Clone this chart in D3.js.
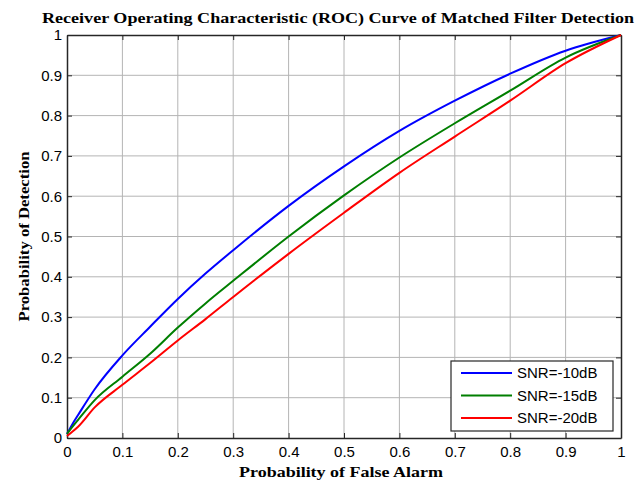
<!DOCTYPE html>
<html>
<head>
<meta charset="utf-8">
<script src="https://cdn.jsdelivr.net/npm/d3@7"></script>
<style>
  body { margin: 0; background: #fff; }
  svg { display: block; }
</style>
</head>
<body>
<svg id="chart"></svg>
<script>
// ROC curves
const pfa = [0, 0.01, 0.02, 0.05, 0.1, 0.15, 0.2, 0.25, 0.3, 0.4, 0.5, 0.6, 0.7, 0.8, 0.9, 1];
const pdSnr10 = [0.01, 0.035, 0.057, 0.121, 0.205, 0.276, 0.345, 0.408, 0.466, 0.576, 0.674, 0.762, 0.837, 0.904, 0.961, 1];
const pdSnr15 = [0.01, 0.028, 0.045, 0.094, 0.152, 0.209, 0.274, 0.334, 0.39, 0.5, 0.602, 0.696, 0.781, 0.862, 0.944, 1];
const pdSnr20 = [0.005, 0.016, 0.028, 0.076, 0.132, 0.186, 0.242, 0.295, 0.35, 0.457, 0.559, 0.658, 0.748, 0.837, 0.93, 1];
const seriesNames = ["SNR=-10dB", "SNR=-15dB", "SNR=-20dB"];
const seriesColors = ["#0000ff", "#007f00", "#ff0000"];
const tickValues = d3.range(0, 11).map(i => i / 10);

const width = 640, height = 486;
const margin = { left: 67, right: 19, top: 35, bottom: 48 };

const svg = d3.select("#chart")
	.attr("width", width)
	.attr("height", height)
	.attr("viewBox", `0 0 ${width} ${height}`);

const x = d3.scaleLinear().domain([0, 1]).range([margin.left, width - margin.right]);
const y = d3.scaleLinear().domain([0, 1]).range([height - margin.bottom, margin.top]);

const tickFmt = d => d === 0 || d === 1 ? String(d) : d3.format(".1f")(d);

// grid
const grid = svg.append("g");
grid.selectAll("line.vx")
	.data(tickValues.slice(1, -1))
	.join("line")
	.attr("x1", d => x(d)).attr("x2", d => x(d))
	.attr("y1", y(0)).attr("y2", y(1))
	.attr("stroke", "#b4b4b4")
	.attr("stroke-width", 1);
grid.selectAll("line.hy")
	.data(tickValues.slice(1, -1))
	.join("line")
	.attr("y1", d => y(d)).attr("y2", d => y(d))
	.attr("x1", x(0)).attr("x2", x(1))
	.attr("stroke", "#b4b4b4")
	.attr("stroke-width", 1);

// axes with inward ticks (box on)
const axisColor = "#262626";
const axisFont = "'Liberation Sans', Arial, sans-serif";

const xAxis = svg.append("g")
	.attr("transform", `translate(0,${y(0)})`)
	.call(d3.axisBottom(x).tickValues(tickValues).tickFormat(tickFmt).tickSizeInner(-5).tickSizeOuter(0).tickPadding(10));
const xAxisTop = svg.append("g")
	.attr("transform", `translate(0,${y(1)})`)
	.call(d3.axisTop(x).tickValues(tickValues).tickFormat("").tickSizeInner(-5).tickSizeOuter(0));
const yAxis = svg.append("g")
	.attr("transform", `translate(${x(0)},0)`)
	.call(d3.axisLeft(y).tickValues(tickValues).tickFormat(tickFmt).tickSizeInner(-5).tickSizeOuter(0).tickPadding(5));
const yAxisRight = svg.append("g")
	.attr("transform", `translate(${x(1)},0)`)
	.call(d3.axisRight(y).tickValues(tickValues).tickFormat("").tickSizeInner(-5).tickSizeOuter(0));

[xAxis, xAxisTop, yAxis, yAxisRight].forEach(g => {
	g.select(".domain").attr("stroke", axisColor).attr("stroke-width", 1.5);
	g.selectAll(".tick line").attr("stroke", axisColor);
	g.selectAll(".tick text")
		.attr("fill", "#000")
		.style("font-family", axisFont)
		.style("font-size", "15px");
});
xAxis.selectAll(".tick text").attr("dy", "0.6em");

// curves
const seriesData = [pdSnr10, pdSnr15, pdSnr20];
const line = d3.line()
	.x((d, i) => x(pfa[i]))
	.y(d => y(d))
	.curve(d3.curveMonotoneX);

svg.append("g")
	.selectAll("path")
	.data(seriesData)
	.join("path")
	.attr("d", line)
	.attr("fill", "none")
	.attr("stroke", (d, i) => seriesColors[i])
	.attr("stroke-width", 2)
	.attr("stroke-linejoin", "round");

// legend
const legend = svg.append("g").attr("transform", "translate(451,361)");
legend.append("rect")
	.attr("width", 162).attr("height", 70)
	.attr("fill", "#fff")
	.attr("stroke", axisColor)
	.attr("stroke-width", 1.2);
const items = legend.selectAll("g.item")
	.data(seriesNames)
	.join("g")
	.attr("transform", (d, i) => `translate(0,${12 + i * 22.5})`);
items.append("line")
	.attr("x1", 10).attr("x2", 61)
	.attr("stroke", (d, i) => seriesColors[i])
	.attr("stroke-width", 2);
items.append("text")
	.attr("x", 66)
	.attr("dy", "0.35em")
	.style("font-family", axisFont)
	.style("font-size", "15px")
	.text(d => d);

// titles
const serif = "'Liberation Serif', 'Times New Roman', serif";
svg.append("text")
	.attr("x", 338).attr("y", 22.5)
	.attr("text-anchor", "middle")
	.attr("textLength", 592)
	.attr("lengthAdjust", "spacingAndGlyphs")
	.style("font-family", serif)
	.style("font-weight", "bold")
	.style("font-size", "15px")
	.text("Receiver Operating Characteristic (ROC) Curve of Matched Filter Detection");

svg.append("text")
	.attr("x", 341).attr("y", 477)
	.attr("text-anchor", "middle")
	.attr("textLength", 204)
	.attr("lengthAdjust", "spacingAndGlyphs")
	.style("font-family", serif)
	.style("font-weight", "bold")
	.style("font-size", "15px")
	.text("Probability of False Alarm");

svg.append("text")
	.attr("transform", `translate(29,${y(0.5)}) rotate(-90)`)
	.attr("text-anchor", "middle")
	.attr("textLength", 170)
	.attr("lengthAdjust", "spacingAndGlyphs")
	.style("font-family", serif)
	.style("font-weight", "bold")
	.style("font-size", "15px")
	.text("Probability of Detection");
</script>
</body>
</html>
